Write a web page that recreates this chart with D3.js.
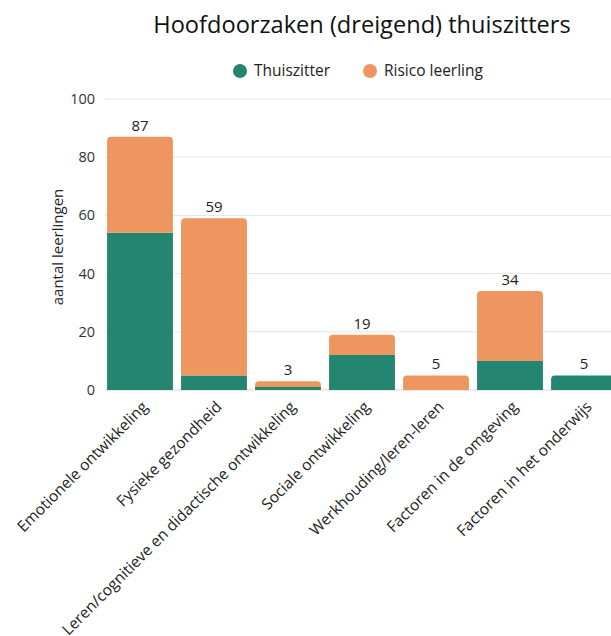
<!DOCTYPE html>
<html>
<head>
<meta charset="utf-8">
<script src="https://cdn.jsdelivr.net/npm/d3@7"></script>
<style>
  html, body { margin: 0; padding: 0; background: #fff; }
  svg { display: block; font-family: "Open Sans", sans-serif; }
</style>
</head>
<body>
<svg id="chart" width="611" height="636"></svg>
<script>
const categories = [
  "Emotionele ontwikkeling",
  "Fysieke gezondheid",
  "Leren/cognitieve en didactische ontwikkeling",
  "Sociale ontwikkeling",
  "Werkhouding/leren-leren",
  "Factoren in de omgeving",
  "Factoren in het onderwijs"
];
const thuiszitter = [54, 5, 1, 12, 0, 10, 5];
const risico = [33, 54, 2, 7, 5, 24, 0];
const seriesNames = ["Thuiszitter", "Risico leerling"];
const yTicks = [0, 20, 40, 60, 80, 100];
const colors = ["#248571", "#ED9660"];

const svg = d3.select("#chart");
const W = 611, H = 636;

const x = d3.scaleBand().domain(categories).range([103, 621]).paddingInner(0.11).paddingOuter(0.055);
const y = d3.scaleLinear().domain([0, 100]).range([390, 99]);

// gridlines
svg.append("g").selectAll("line").data(yTicks).join("line")
  .attr("x1", 105).attr("x2", W)
  .attr("y1", d => y(d)).attr("y2", d => y(d))
  .attr("stroke", d => d === 0 ? "#d8d8d8" : "#e6e6e6").attr("stroke-width", 1);

// y tick labels
svg.append("g").selectAll("text").data(yTicks).join("text")
  .attr("x", 95).attr("y", d => y(d)).attr("dy", "0.35em")
  .attr("text-anchor", "end").attr("font-size", 14.5).attr("fill", "#333")
  .text(d => d);

// y axis title
svg.append("text")
  .attr("transform", `translate(63, 247) rotate(-90)`)
  .attr("text-anchor", "middle").attr("font-size", 15).attr("fill", "#222")
  .text("aantal leerlingen");

// stacked data
const data = categories.map((c, i) => ({ cat: c, Thuiszitter: thuiszitter[i], "Risico leerling": risico[i] }));
const stacked = d3.stack().keys(seriesNames)(data);

const r = 4;
function barPath(x0, w, yTop, yBot, rounded) {
  if (!rounded) return `M${x0},${yBot}V${yTop}H${x0 + w}V${yBot}Z`;
  const rr = Math.min(r, (yBot - yTop));
  return `M${x0},${yBot}V${yTop + rr}Q${x0},${yTop} ${x0 + rr},${yTop}H${x0 + w - rr}Q${x0 + w},${yTop} ${x0 + w},${yTop + rr}V${yBot}Z`;
}

stacked.forEach((layer, li) => {
  svg.append("g").attr("fill", colors[li]).selectAll("path")
    .data(layer).join("path")
    .filter(d => d[1] - d[0] > 0)
    .attr("d", (d, i) => {
      const idx = categories.indexOf(d.data.cat);
      const isTop = (li === stacked.length - 1) || risico[idx] === 0;
      return barPath(x(d.data.cat), x.bandwidth(), y(d[1]), y(d[0]), isTop);
    });
});

// totals
svg.append("g").selectAll("text").data(data).join("text")
  .attr("x", d => x(d.cat) + x.bandwidth() / 2)
  .attr("y", d => y(d.Thuiszitter + d["Risico leerling"]) - 6)
  .attr("text-anchor", "middle").attr("font-size", 15).attr("fill", "#222")
  .text(d => d.Thuiszitter + d["Risico leerling"]);

// x labels
svg.append("g").selectAll("text").data(categories).join("text")
  .attr("transform", d => `translate(${x(d) + x.bandwidth() / 2 + 1}, 400) rotate(-45)`)
  .attr("text-anchor", "end").attr("dy", "0.71em").attr("font-size", 15.5).attr("fill", "#222")
  .text(d => d);

// title
svg.append("text")
  .attr("x", 362).attr("y", 33).attr("text-anchor", "middle")
  .attr("font-size", 23.6).attr("fill", "#111")
  .text("Hoofdoorzaken (dreigend) thuiszitters");

// legend
const legend = svg.append("g");
const legX = [240, 370];
seriesNames.forEach((s, i) => {
  legend.append("circle").attr("cx", legX[i]).attr("cy", 71).attr("r", 7).attr("fill", colors[i]);
  legend.append("text").attr("x", legX[i] + 14).attr("y", 71).attr("dy", "0.35em")
    .attr("font-size", 15.5).attr("fill", "#222").text(s);
});
</script>
</body>
</html>
